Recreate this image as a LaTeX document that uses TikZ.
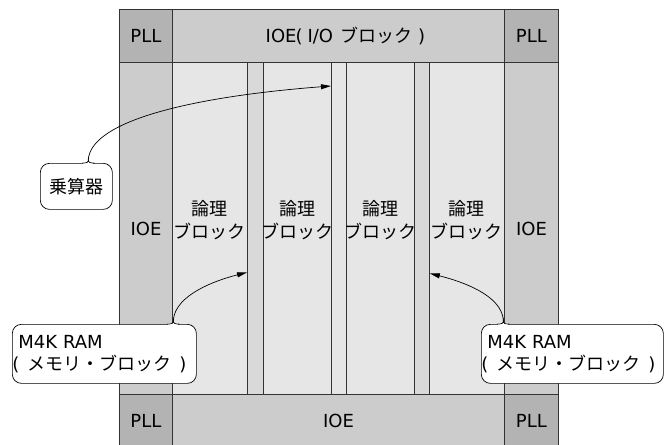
\documentclass[tikz,border=0pt]{standalone}
\usepackage{fontspec}
\setmainfont{DejaVu Sans}
\newfontfamily\jpfont{Noto Sans CJK JP}
\usetikzlibrary{arrows.meta}
\definecolor{pllgray}{HTML}{B3B3B3}
\definecolor{ioegray}{HTML}{CCCCCC}
\definecolor{logicgray}{HTML}{E6E6E6}
\definecolor{ramgray}{HTML}{D9D9D9}
\definecolor{edgegray}{HTML}{333333}
\newcommand{\jptext}[1]{{\jpfont #1}}
\newcommand{\ramtext}{M4K RAM\\\hspace*{-6pt}(\hspace{8pt}\jptext{メモリ・ブロック}\hspace{8pt})}
\newcommand{\notchmark}[1]{%
  \fill[white] ([xshift=-5pt,yshift=-1.5pt]#1) rectangle ([xshift=5pt,yshift=1.5pt]#1);
  \draw[line width=0.7pt] ([xshift=-6pt]#1) .. controls ([xshift=-1pt]#1) and ([yshift=0.5pt]#1) .. ([yshift=4pt]#1)
    .. controls ([yshift=0.5pt]#1) and ([xshift=1pt]#1) .. ([xshift=6pt]#1);}

\begin{document}
\begin{tikzpicture}[x=1pt, y=-1pt,
    blk/.style={draw=edgegray, line width=0.9pt, anchor=north west, inner sep=0pt,
      font=\fontsize{18}{23}\selectfont, align=center},
    lbl/.style={font=\fontsize{18}{23}\selectfont, align=center},
    note/.style={draw=black, fill=white, rounded corners=9pt, anchor=north west, inner sep=2pt,
      line width=0.7pt, font=\fontsize{18}{22}\selectfont, align=left},
    arr/.style={-{Triangle[length=10pt,width=5pt]}, line width=0.7pt}]
    \useasboundingbox (0,0) rectangle (665,445);
    \clip (0,0) rectangle (665,445);

    % Top row
    \node[blk, fill=pllgray, minimum width=53pt, minimum height=53pt] (pllTL) at (119,9) {PLL};
    \node[blk, fill=ioegray, minimum width=332pt, minimum height=53pt] (ioeT) at (172,9) {};
    \node[lbl] at ([xshift=7pt]ioeT.center) {IOE\kern-1pt(\hspace{5pt}I/O\hspace{7pt}\jptext{ブロック}\hspace{6pt})};
    \node[blk, fill=pllgray, minimum width=54pt, minimum height=53pt] (pllTR) at (504,9) {PLL};

    % Side columns
    \node[blk, fill=ioegray, minimum width=53pt, minimum height=332pt] (ioeL) at (119,62) {IOE};
    \node[blk, fill=ioegray, minimum width=54pt, minimum height=332pt] (ioeR) at (504,62) {IOE};

    % Core columns
    \node[blk, fill=logicgray, minimum width=75pt, minimum height=332pt] (logicA) at (172,62) {};
    \node[blk, fill=ramgray, minimum width=16pt, minimum height=332pt] (ramA) at (247,62) {};
    \node[blk, fill=logicgray, minimum width=68pt, minimum height=332pt] (logicB) at (263,62) {};
    \node[blk, fill=logicgray, minimum width=15pt, minimum height=332pt] (mulA) at (331,62) {};
    \node[blk, fill=logicgray, minimum width=68pt, minimum height=332pt] (logicC) at (346,62) {};
    \node[blk, fill=ramgray, minimum width=15pt, minimum height=332pt] (ramB) at (414,62) {};
    \node[blk, fill=logicgray, minimum width=75pt, minimum height=332pt] (logicD) at (429,62) {};
    \foreach \b in {logicA,logicB,logicC,logicD}
      \node[lbl] at ([yshift=8pt]\b.center) {\jptext{論理}\\\jptext{ブロック}};

    % Bottom row
    \node[blk, fill=pllgray, minimum width=53pt, minimum height=53pt] (pllBL) at (119,394) {PLL};
    \node[blk, fill=ioegray, minimum width=332pt, minimum height=53pt] (ioeB) at (172,394) {IOE};
    \node[blk, fill=pllgray, minimum width=54pt, minimum height=53pt] (pllBR) at (504,394) {PLL};

    % Callouts
    \node[note, minimum width=72pt, minimum height=46pt, align=center] (mulnote) at (40,163) {\jptext{乗算器}};
    \node[note, minimum width=184pt, minimum height=59pt, text width=172pt, inner xsep=6pt] (ramnoteL) at (12,324) {\ramtext};
    \node[note, minimum width=182pt, minimum height=59pt, text width=170pt, inner xsep=6pt] (ramnoteR) at (481,324) {\ramtext};
    \coordinate (mulcusp) at ([xshift=12pt]mulnote.north);
    \coordinate (ramcuspL) at ([xshift=69pt]ramnoteL.north);
    \coordinate (ramcuspR) at ([xshift=-69pt]ramnoteR.north);
    \coordinate (multip) at ([yshift=-24pt]mulA.north west);
    \coordinate (ramtipA) at ([yshift=-44pt]ramA.west);
    \coordinate (ramtipB) at ([yshift=-45pt]ramB.east);
    \notchmark{mulcusp}
    \notchmark{ramcuspL}
    \notchmark{ramcuspR}

    % Pointers
    \draw[arr] ([yshift=4pt]mulcusp) .. controls +(4,-40) and +(-131,10) .. (multip);
    \draw[arr] ([yshift=4pt]ramcuspL) .. controls +(2,-25) and +(-32,8) .. (ramtipA);
    \draw[arr] ([yshift=4pt]ramcuspR) .. controls +(-2,-25) and +(32,8) .. (ramtipB);
\end{tikzpicture}
\end{document}
